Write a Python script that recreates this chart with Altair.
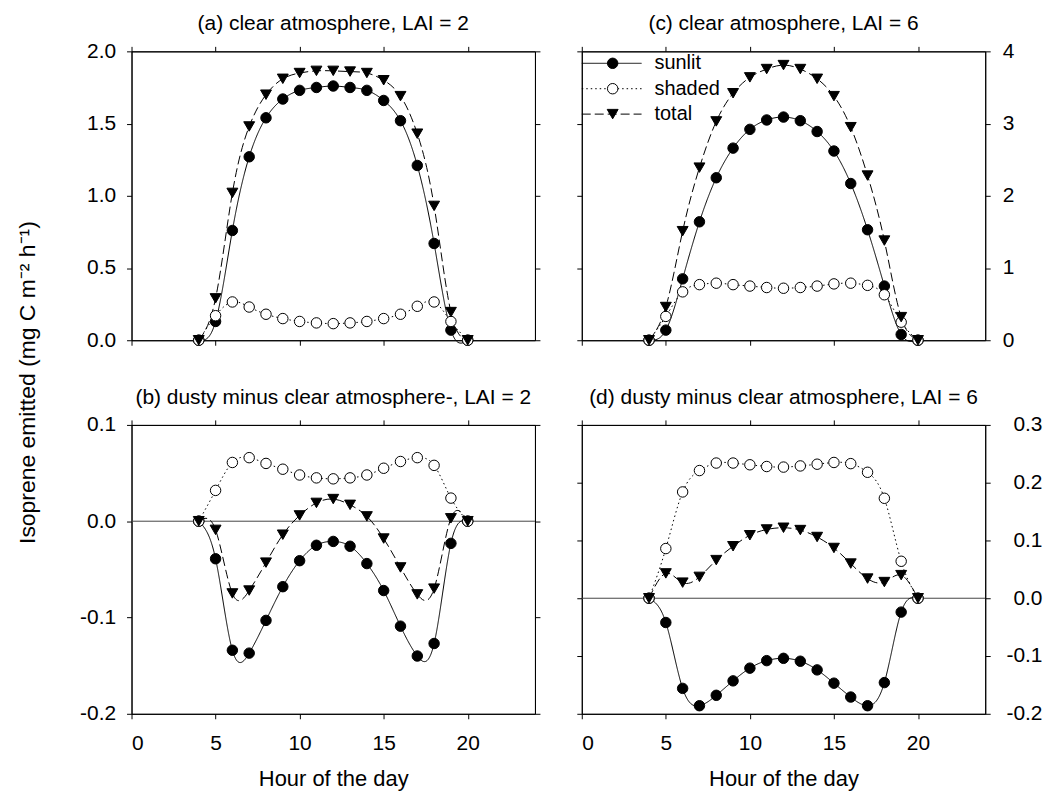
import altair as alt
import pandas as pd

FONT = "Liberation Sans"

hours = list(range(4, 21))
series_names = ["sunlit", "shaded", "total"]

# (a) clear atmosphere, LAI = 2
a_sunlit = [0, 0.13, 0.76, 1.27, 1.54, 1.67, 1.73, 1.75, 1.76, 1.75, 1.73, 1.66, 1.52, 1.21, 0.67, 0.07, 0]
a_shaded = [0, 0.17, 0.265, 0.23, 0.18, 0.15, 0.13, 0.12, 0.115, 0.12, 0.13, 0.15, 0.18, 0.235, 0.265, 0.13, 0]
a_total = [0, 0.29, 1.02, 1.48, 1.70, 1.81, 1.85, 1.865, 1.865, 1.86, 1.85, 1.80, 1.69, 1.43, 0.93, 0.195, 0]

# (b) dusty minus clear, LAI = 2
b_sunlit = [0, -0.039, -0.134, -0.137, -0.103, -0.068, -0.041, -0.025, -0.021, -0.026, -0.044, -0.072, -0.109, -0.140, -0.127, -0.023, 0]
b_shaded = [0, 0.032, 0.061, 0.066, 0.060, 0.054, 0.048, 0.045, 0.044, 0.045, 0.048, 0.055, 0.062, 0.066, 0.058, 0.024, 0]
b_total = [0, -0.009, -0.075, -0.072, -0.043, -0.014, 0.006, 0.019, 0.023, 0.017, 0.005, -0.018, -0.048, -0.076, -0.070, 0.003, 0]

# (c) clear atmosphere, LAI = 6
c_sunlit = [0, 0.14, 0.85, 1.64, 2.25, 2.66, 2.92, 3.05, 3.09, 3.04, 2.89, 2.62, 2.17, 1.53, 0.75, 0.08, 0]
c_shaded = [0, 0.33, 0.67, 0.77, 0.79, 0.77, 0.75, 0.73, 0.72, 0.73, 0.75, 0.78, 0.79, 0.76, 0.63, 0.25, 0]
c_total = [0, 0.46, 1.51, 2.39, 3.03, 3.42, 3.64, 3.755, 3.81, 3.755, 3.62, 3.38, 2.95, 2.28, 1.38, 0.32, 0]

# (d) dusty minus clear, LAI = 6
d_sunlit = [0, -0.042, -0.156, -0.186, -0.168, -0.143, -0.121, -0.108, -0.104, -0.109, -0.124, -0.147, -0.171, -0.186, -0.146, -0.024, 0]
d_shaded = [0, 0.086, 0.184, 0.221, 0.234, 0.234, 0.231, 0.228, 0.227, 0.229, 0.232, 0.235, 0.233, 0.218, 0.173, 0.064, 0]
d_total = [0, 0.043, 0.027, 0.037, 0.066, 0.090, 0.109, 0.119, 0.122, 0.118, 0.106, 0.087, 0.060, 0.034, 0.028, 0.040, 0]

x_ticks = [0, 5, 10, 15, 20]

W, H = 405, 290

STYLE = {
    "sunlit": dict(dash=[1, 0], shape="circle", fill="black", size=110),
    "shaded": dict(dash=[1.5, 3], shape="circle", fill="white", size=110),
    "total": dict(dash=[9, 4], shape="triangle-down", fill="black", size=120),
}

MINUS_EXPR = "(datum.value < 0 ? '-' : '') + format(abs(datum.value), '{fmt}')"


def make_panel(title, sunlit, shaded, total, ydom, yvals, yfmt, label_side,
               bottom_labels, zero_line, legend, ytitle=None, label_align=None, label_pad=11):
    df = pd.DataFrame({"hour": hours, "sunlit": sunlit, "shaded": shaded, "total": total})
    xs = alt.Scale(domain=[0, 24], nice=False, zero=False)
    ys = alt.Scale(domain=ydom, nice=False, zero=False)
    other = "right" if label_side == "left" else "left"
    base = alt.Chart(df)

    xa_kw = dict(orient="bottom", values=x_ticks, labels=bottom_labels, labelPadding=14)
    if bottom_labels:
        xa_kw.update(title="Hour of the day", titleY=65, titleBaseline="middle", titleFontSize=22)
    else:
        xa_kw.update(title=None)
    ya_kw = dict(orient=label_side, values=yvals, labelPadding=label_pad,
                 labelExpr=MINUS_EXPR.format(fmt=yfmt))
    if label_align:
        ya_kw.update(labelAlign=label_align)
    if ytitle:
        ya_kw.update(title=ytitle, titleX=-104, titleY=332, titleBaseline="middle",
                     titleAlign="center", titleAngle=-90, titleFontSize=23)
    else:
        ya_kw.update(title=None)
    ax1 = base.mark_point(opacity=0).encode(
        x=alt.X("hour:Q", scale=xs, axis=alt.Axis(**xa_kw)),
        y=alt.Y("sunlit:Q", scale=ys, axis=alt.Axis(**ya_kw)),
    )
    ax2 = base.mark_point(opacity=0).encode(
        x=alt.X("hour:Q", scale=xs, axis=alt.Axis(orient="top", values=x_ticks, labels=False, title=None)),
        y=alt.Y("sunlit:Q", scale=ys, axis=alt.Axis(orient=other, values=yvals, labels=False, title=None)),
    )
    layers = [ax1, ax2]
    if zero_line:
        zdf = pd.DataFrame({"z": [0]})
        layers.append(alt.Chart(zdf).mark_rule(color="#444444", strokeWidth=1).encode(
            y=alt.Y("z:Q", scale=ys, axis=None)))
    for name in series_names:
        st = STYLE[name]
        layers.append(base.mark_line(interpolate="natural", color="black", strokeWidth=1,
                                     strokeDash=st["dash"]).encode(
            x=alt.X("hour:Q", scale=xs, axis=None),
            y=alt.Y(f"{name}:Q", scale=ys, axis=None)))
    for name in series_names:
        st = STYLE[name]
        layers.append(base.mark_point(shape=st["shape"], filled=True, fill=st["fill"],
                                      stroke="black", strokeWidth=1, size=st["size"],
                                      opacity=1).encode(
            x=alt.X("hour:Q", scale=xs, axis=None),
            y=alt.Y(f"{name}:Q", scale=ys, axis=None)))
    if legend:
        one = alt.Chart(pd.DataFrame({"k": [0]}))
        rows = [12, 37.5, 63]
        for name, yy in zip(series_names, rows):
            st = STYLE[name]
            layers.append(one.mark_rule(color="black", strokeWidth=1, strokeDash=st["dash"]).encode(
                x=alt.value(0), x2=alt.value(60), y=alt.value(yy)))
            layers.append(one.mark_point(shape=st["shape"], filled=True, fill=st["fill"],
                                         stroke="black", strokeWidth=1, size=st["size"],
                                         opacity=1).encode(
                x=alt.value(31), y=alt.value(yy)))
            layers.append(one.mark_text(align="left", baseline="middle", font=FONT,
                                        fontSize=20, color="black").encode(
                x=alt.value(73), y=alt.value(yy), text=alt.value(name)))
    return alt.layer(*layers).resolve_axis(x="independent", y="independent").properties(
        width=W, height=H, title=title)


pa = make_panel("(a) clear atmosphere, LAI = 2", a_sunlit, a_shaded, a_total,
                [0, 2], [0, 0.5, 1.0, 1.5, 2.0], ".1f", "left", False, False, False,
                ytitle="Isoprene emitted (mg C m\u207b\u00b2 h\u207b\u00b9)")
pc = make_panel("(c) clear atmosphere, LAI = 6", c_sunlit, c_shaded, c_total,
                [0, 4], [0, 1, 2, 3, 4], "d", "right", False, False, True, label_pad=12)
pb = make_panel("(b) dusty minus clear atmosphere-, LAI = 2", b_sunlit, b_shaded, b_total,
                [-0.2, 0.1], [-0.2, -0.1, 0.0, 0.1], ".1f", "left", True, True, False)
pd_ = make_panel("(d) dusty minus clear atmosphere, LAI = 6", d_sunlit, d_shaded, d_total,
                 [-0.2, 0.3], [-0.2, -0.1, 0.0, 0.1, 0.2, 0.3], ".1f", "right", True, True, False,
                 label_align="right", label_pad=52)

chart = alt.concat(pa, pc, pb, pd_, columns=2, spacing={"row": 85, "column": 47},
                   bounds="flush").properties(
    padding={"left": 8, "top": 3, "right": 0, "bottom": 5}
).configure_view(
    stroke="black", strokeWidth=1
).configure_axis(
    domainColor="black", tickColor="black", tickSize=5, tickWidth=1, domainWidth=1,
    labelFont=FONT, labelFontSize=21, labelColor="black",
    titleFont=FONT, titleFontSize=21, titleColor="black", titleFontWeight="normal",
    grid=False
).configure_title(
    font=FONT, fontSize=21, fontWeight="normal", color="black", offset=6, anchor="middle"
)

chart.save("out.html", embed_options={"renderer": "svg", "actions": False})
